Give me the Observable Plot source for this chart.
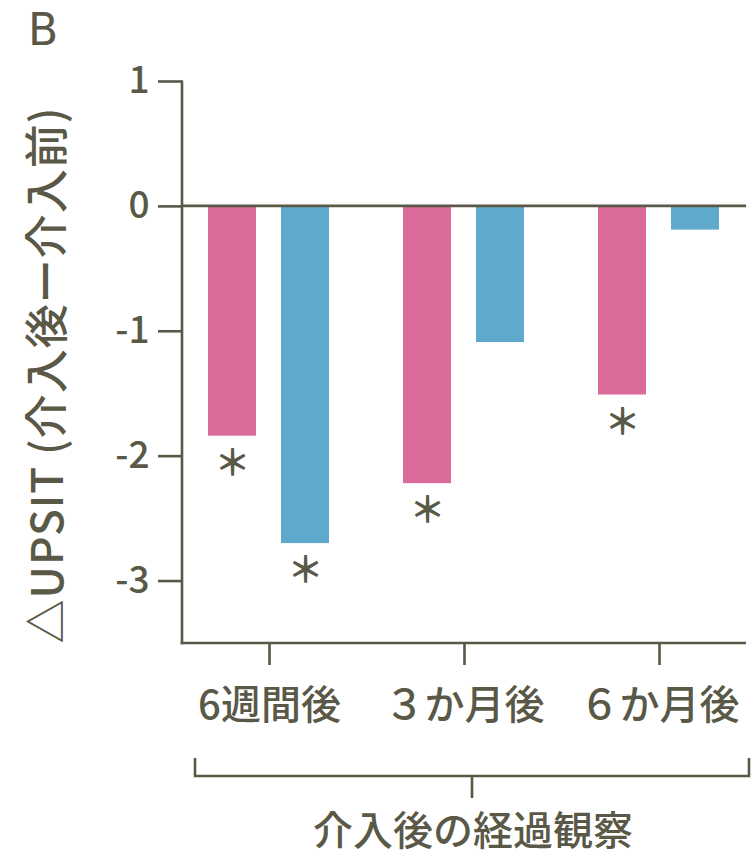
<!DOCTYPE html>
<html><head><meta charset="utf-8">
<script src="https://cdn.jsdelivr.net/npm/d3@7"></script>
<script src="https://cdn.jsdelivr.net/npm/@observablehq/plot@0.6"></script>
<style>body{margin:0;background:#fff} #chart{width:753px;height:857px}</style>
</head><body><div id="chart"></div>
<script>
const groups = ["6週間後", "３か月後", "６か月後"];
const seriesNames = ["介入群", "対照群"];
const pinkValues = [-1.84, -2.22, -1.51];
const blueValues = [-2.70, -1.09, -0.19];
const pinkSignificant = [true, true, true];
const blueSignificant = [true, false, false];
const yTicks = [1, 0, -1, -2, -3];
const yDomain = [-3.5, 1];
const yLabel = "△UPSIT (介入後ー介入前)";
const xTitle = "介入後の経過観察";
const panelLabel = "B";
const colors = ["#da6a99", "#5fa9cc"];
const ink = "#5a5846";

const data = groups.flatMap((g, i) => [
  {group: g, series: seriesNames[0], value: pinkValues[i], sig: pinkSignificant[i]},
  {group: g, series: seriesNames[1], value: blueValues[i], sig: blueSignificant[i]}
]);

const W = 753, H = 857, mL = 182, mR = 7, mT = 81, mB = 214;
const font = "'Noto Sans CJK JP', 'Noto Sans', sans-serif";
const plot = Plot.plot({
  width: W, height: H, marginLeft: mL, marginRight: mR, marginTop: mT, marginBottom: mB,
  style: {fontFamily: font, color: ink, background: "transparent", fontWeight: 500},
  fx: {domain: groups, paddingInner: 0.118, paddingOuter: 0, label: null},
  x: {domain: seriesNames, paddingInner: 0.342, paddingOuter: 0.342, axis: null},
  y: {domain: yDomain},
  color: {domain: seriesNames, range: colors},
  marks: [
    Plot.barY(data, {fx: "group", x: "series", y: "value", fill: "series"}),
    Plot.text(data.filter(d => d.sig), {fx: "group", x: "series", y: "value", text: () => "＊", dy: 28, fontSize: 36, fontWeight: "bold", fill: ink}),
    Plot.axisY({ticks: yTicks, tickFormat: d => String(d), tickSize: 25, tickPadding: 9, fontSize: 37, strokeWidth: 2.6, label: null}),
    Plot.axisFx({anchor: "bottom", tickSize: 22, tickPadding: 25, fontSize: 40, strokeWidth: 2.6, label: null})
  ]
});
document.getElementById("chart").appendChild(plot);

const svg = d3.select(plot);
const y = plot.scale("y");
const y0 = y.apply(0), yBot = y.apply(yDomain[0]), yTop = y.apply(yDomain[1]);
const g = svg.append("g").attr("stroke", ink).attr("stroke-width", 2.6).attr("fill", "none");
g.append("line").attr("x1", mL).attr("x2", mL).attr("y1", yTop).attr("y2", yBot + 1.3);
g.append("line").attr("x1", mL).attr("x2", W - mR).attr("y1", y0).attr("y2", y0);
g.append("line").attr("x1", mL - 1.3).attr("x2", W - mR).attr("y1", yBot).attr("y2", yBot);
g.append("path").attr("d", "M195,758V776H749V758M472,776V798");

const t = svg.append("g").attr("fill", ink).attr("font-family", font).attr("font-weight", 500);
t.append("text").attr("x", 473).attr("y", 845).attr("text-anchor", "middle").attr("font-size", 40).text(xTitle);
t.append("text").attr("transform", "translate(44,375) rotate(-90)").attr("text-anchor", "middle")
  .attr("dominant-baseline", "central").attr("font-size", 44).attr("letter-spacing", 1).text(yLabel);
t.append("text").attr("x", 28).attr("y", 45).attr("text-anchor", "start")
  .attr("font-family", "'DejaVu Sans', sans-serif").attr("font-weight", 400).attr("font-size", 44).text(panelLabel);
</script>
</body></html>
